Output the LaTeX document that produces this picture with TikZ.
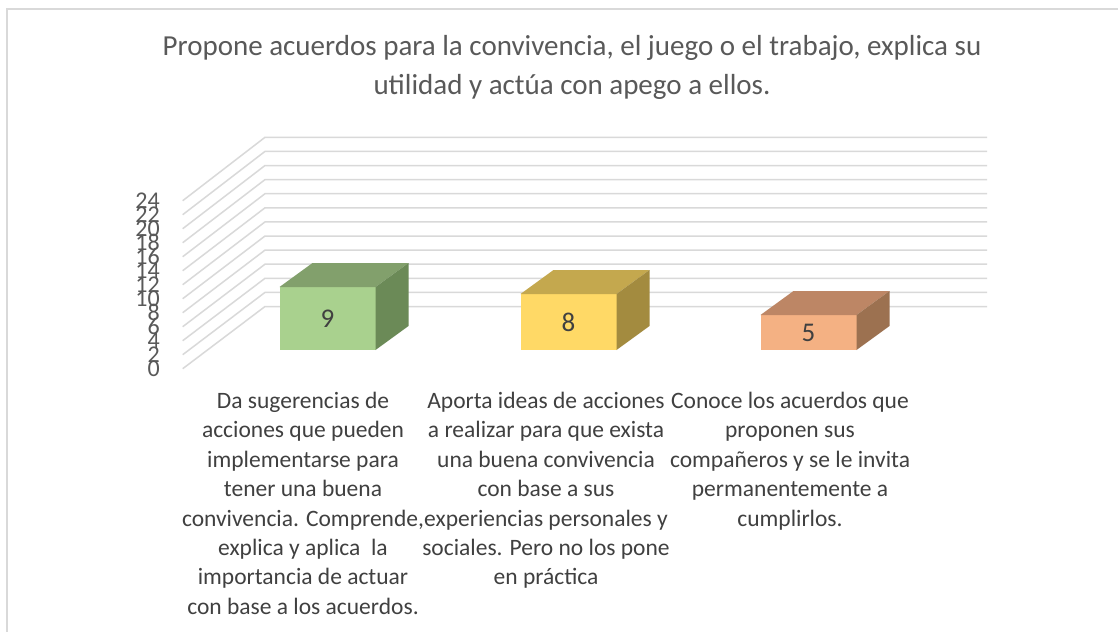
\documentclass[tikz,border=0pt]{standalone}
\usepackage{fontspec}
\setmainfont{Carlito}
\usetikzlibrary{calc}

\definecolor{gridgray}{HTML}{D9D9D9}
\definecolor{axisgray}{HTML}{595959}
\definecolor{textgray}{HTML}{404040}
\definecolor{greenfront}{HTML}{A9D18E}
\definecolor{greentop}{HTML}{82A06C}
\definecolor{greenside}{HTML}{6B8A57}
\definecolor{yellowfront}{HTML}{FFD966}
\definecolor{yellowtop}{HTML}{C4A84E}
\definecolor{yellowside}{HTML}{A38B3F}
\definecolor{orangefront}{HTML}{F4B183}
\definecolor{orangetop}{HTML}{BD8665}
\definecolor{orangeside}{HTML}{9C7150}

\tikzset{
  gridline/.style={gridgray, line width=1.5},
  ticklabel/.style={anchor=east, inner sep=0pt, text=axisgray, font=\fontsize{24}{24}\selectfont},
  valuelabel/.style={inner sep=0pt, text=textgray, font=\fontsize{27}{27}\selectfont},
  catlabel/.style={anchor=north, align=center, inner sep=0pt, text=textgray, font=\fontsize{23.5}{29.4}\selectfont}
}

\begin{document}
\begin{tikzpicture}[x=1pt, y=-1pt]
  \useasboundingbox (0,0) rectangle (1118,632);
  \fill[white] (0,0) rectangle (1118,632);

  % Chart frame
  \draw[gridgray, line width=2] (1118,8.5) -- (6.5,8.5) -- (6.5,632);

  % Title
  \node[align=center, text=axisgray, font=\fontsize{29}{39}\selectfont] (title) at (572,67)
    {Propone acuerdos para la convivencia, el juego o el trabajo, explica su\\utilidad y actúa con apego a ellos.};

  % Gridlines: side wall and back wall
  \foreach \i in {0,...,12} {
    \pgfmathsetmacro{\yb}{306.5-14.1*\i}
    \pgfmathsetmacro{\yf}{368.7-14.0*\i}
    \pgfmathtruncatemacro{\val}{2*\i}
    \coordinate (front\i) at (182.7,\yf);
    \coordinate (back\i) at (265,\yb);
    \draw[gridline] (front\i) -- (back\i) -- (987,\yb);
    \node[ticklabel] (tick\i) at (160,\yf) {\val};
  }

  % Bars (3D boxes)
  \foreach \xl/\v/\name/\col in {279.5/9/first/green, 520.5/8/second/yellow, 760.5/5/third/orange} {
    \pgfmathsetmacro{\yt}{350-7*\v}
    \coordinate (\name-bl) at (\xl,350);
    \coordinate (\name-tl) at (\xl,\yt);
    \coordinate (\name-tr) at (\xl+96,\yt);
    \coordinate (\name-br) at (\xl+96,350);
    \fill[\col front] (\name-bl) rectangle (\name-tr);
    \fill[\col top] (\name-tl) -- ++(33,-24) -- ++(96,0) -- (\name-tr) -- cycle;
    \fill[\col side] (\name-tr) -- ++(33,-24) -- ++(0,7*\v) -- (\name-br) -- cycle;
    \node[valuelabel] (\name-val) at ($(\name-bl)!0.5!(\name-tr)$) {\v};
  }

  % Category labels
  \node[catlabel] (catone) at (303,392) {Da sugerencias de\\acciones que pueden\\implementarse para\\tener una buena\\convivencia. Comprende,\\explica y aplica\ \ la\\importancia de actuar\\con base a los acuerdos.};
  \node[catlabel] (cattwo) at (546,392) {Aporta ideas de acciones\\a realizar para que exista\\una buena convivencia\\con base a sus\\experiencias personales y\\sociales. Pero no los pone\\en práctica};
  \node[catlabel] (catthree) at (790,392) {Conoce los acuerdos que\\proponen sus\\compañeros y se le invita\\permanentemente a\\cumplirlos.};
\end{tikzpicture}
\end{document}
